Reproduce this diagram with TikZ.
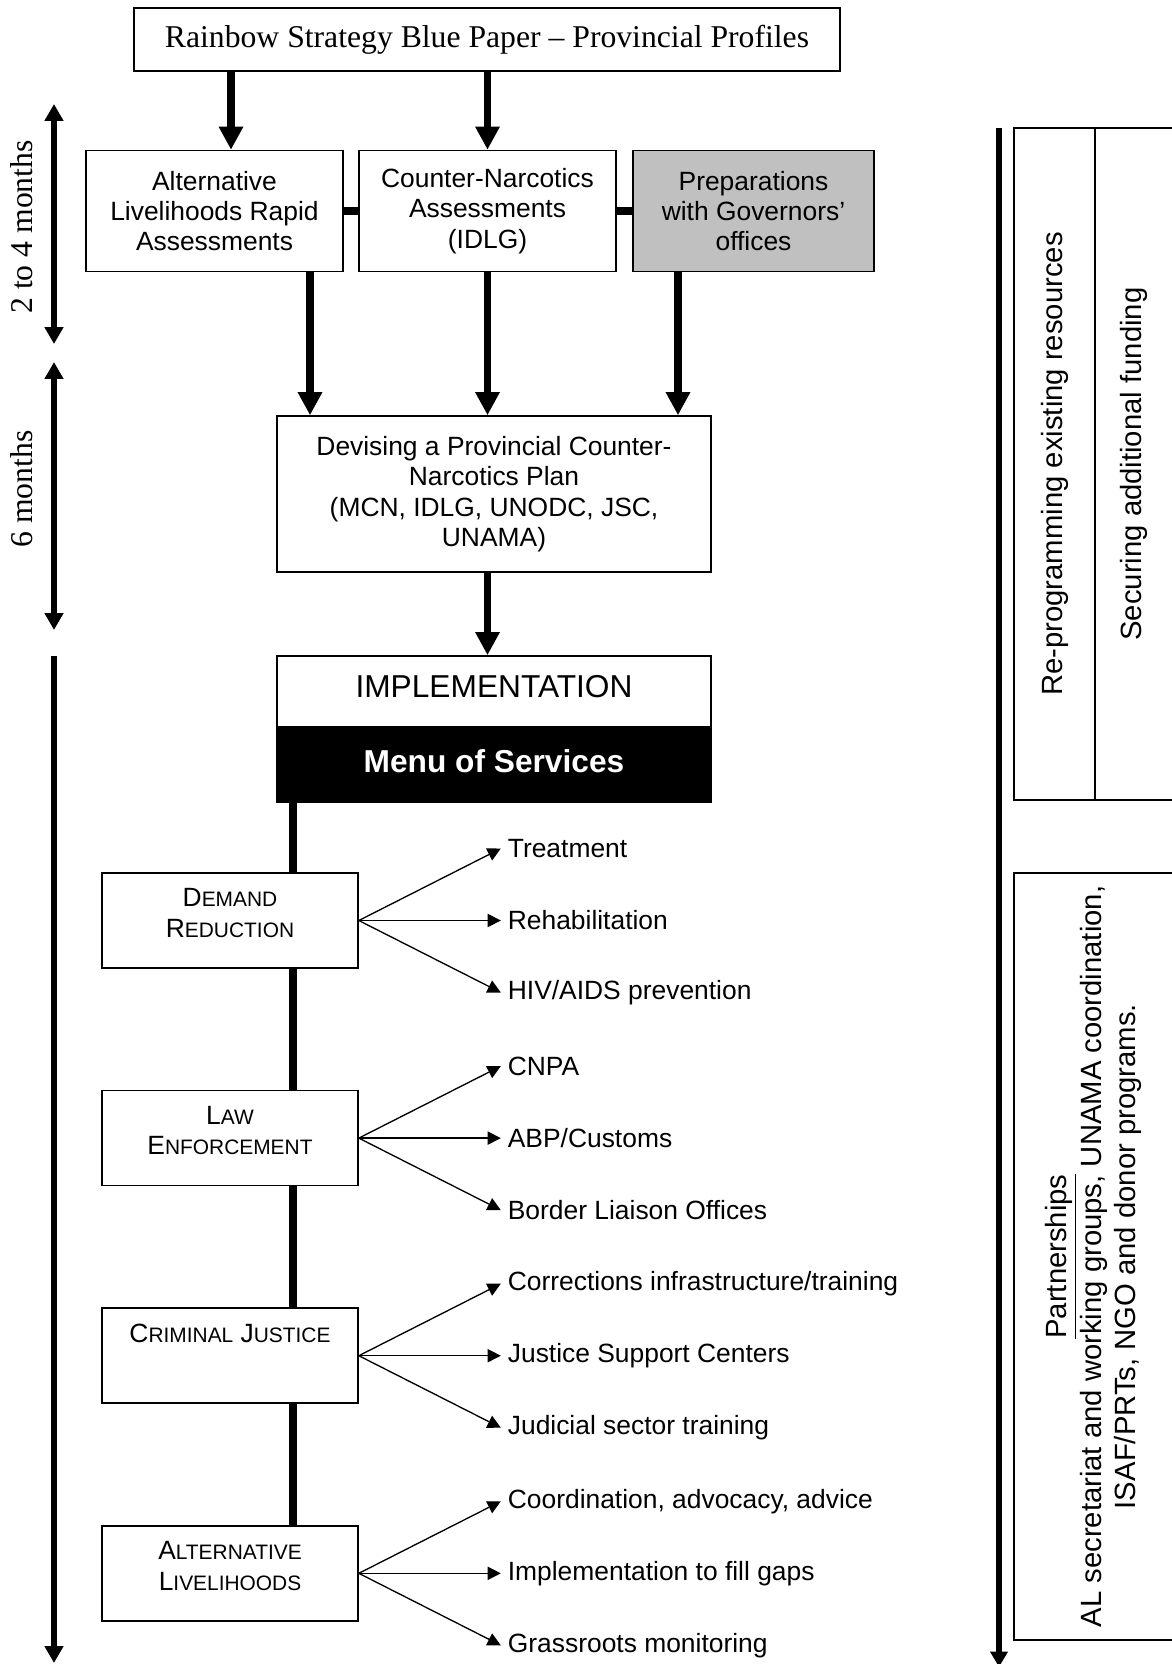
\documentclass[tikz,border=0pt]{standalone}
\usepackage{fontspec}
\setmainfont{Liberation Sans}
\newfontfamily\timesfont{Liberation Serif}
\usepackage{xcolor}
\usetikzlibrary{arrows.meta,positioning}
\definecolor{govgray}{RGB}{192,192,192}
\newcommand{\smc}{\fontsize{9.5}{12}\selectfont}
\newcommand{\catname}[2]{#1\\#2\\[-7pt]\mbox{}}

\begin{document}
\begin{tikzpicture}[
    x=0.4545pt, y=-0.4545pt,
    node distance=55pt,
    font=\fontsize{12}{13.8}\selectfont,
    box/.style={rectangle, draw, line width=0.7pt, fill=white, align=center, inner sep=0pt},
    catbox/.style={box, minimum width=116.4pt, minimum height=43.2pt},
    sidebox/.style={box, rotate=90, font=\fontsize{13.3}{15.7}\selectfont},
    item/.style={anchor=west, inner xsep=3pt, inner ysep=0pt},
    timelabel/.style={rotate=90, font=\timesfont\fontsize{14.4}{16}\selectfont},
    bigarrow/.style={-{Triangle[length=10.5pt,width=10.5pt]}, line width=3.2pt},
    link/.style={line width=3.2pt},
    fan/.style={-{Triangle[length=6pt,width=6pt]}, line width=0.6pt},
    span/.style={{Triangle[length=7.7pt,width=8.2pt]}-{Triangle[length=7.7pt,width=8.2pt]}, line width=2.3pt}
]
\useasboundingbox (0,0) rectangle (1171,1664);

% Planning stage
\node[box, minimum width=320.9pt, minimum height=28.6pt, font=\timesfont\fontsize{14.4}{16}\selectfont] (blue) at (487,39.5) {Rainbow Strategy Blue Paper – Provincial Profiles};
\node[box, minimum width=116.8pt, minimum height=55pt] (alra) at (214.5,211) {Alternative\\Livelihoods Rapid\\Assessments};
\node[box, minimum width=116.8pt, minimum height=55pt] (cna) at (487.5,211) {Counter-Narcotics\\Assessments\\(IDLG)};
\node[box, fill=govgray, minimum width=109.5pt, minimum height=55pt] (gov) at (753.5,211) {Preparations\\with Governors’\\offices};
\node[box, minimum width=197.3pt, minimum height=70.9pt] (plan) at (494,494) {Devising a Provincial Counter-\\Narcotics Plan\\(MCN, IDLG, UNODC, JSC,\\UNAMA)};
\node[box, minimum width=197.3pt, minimum height=32.3pt, text depth=4.5pt, font=\fontsize{14.4}{16}\selectfont] (impl) at (494,691.5) {IMPLEMENTATION};
\node[box, fill=black, text=white, below=0pt of impl, minimum width=197.3pt, minimum height=33.6pt, text depth=4.5pt, font=\bfseries\fontsize{14.4}{16}\selectfont] (menu) {Menu of Services};

% Menu of services
\node[catbox] (dr) at (230,920.5) {\catname{D{\smc EMAND}}{R{\smc EDUCTION}}};
\node[catbox, below=of dr] (le) {\catname{L{\smc AW}}{E{\smc NFORCEMENT}}};
\node[catbox, below=of le] (cj) {\catname{C{\smc RIMINAL} J{\smc USTICE}}{\mbox{}}};
\node[catbox, below=of cj] (alv) {\catname{A{\smc LTERNATIVE}}{L{\smc IVELIHOODS}}};

\node[item] (treat) at ([shift={(142,-72)}]dr.east) {Treatment};
\node[item] (rehab) at ([shift={(142,0)}]dr.east) {Rehabilitation};
\node[item] (hiv) at ([shift={(142,72)}]dr.east) {HIV/AIDS prevention};
\node[item] (cnpa) at ([shift={(142,-72)}]le.east) {CNPA};
\node[item] (abp) at ([shift={(142,0)}]le.east) {ABP/Customs};
\node[item] (blo) at ([shift={(142,72)}]le.east) {Border Liaison Offices};
\node[item] (corr) at ([shift={(142,-72)}]cj.east) {Corrections infrastructure/training};
\node[item] (jsc) at ([shift={(142,0)}]cj.east) {Justice Support Centers};
\node[item] (judic) at ([shift={(142,72)}]cj.east) {Judicial sector training};
\node[item] (coord) at ([shift={(142,-72)}]alv.east) {Coordination, advocacy, advice};
\node[item] (gaps) at ([shift={(142,0)}]alv.east) {Implementation to fill gaps};
\node[item] (grass) at ([shift={(142,72)}]alv.east) {Grassroots monitoring};

% Resources and partners
\node[sidebox, minimum width=305.4pt, minimum height=36.8pt] (reprog) at (1054.5,464) {Re-programming existing resources};
\node[sidebox, minimum width=305.4pt, minimum height=35.5pt] (funds) at (1134,464) {Securing additional funding};
\node[sidebox, minimum width=348.6pt, minimum height=72.3pt] (partners) at (1093.5,1256.5) {\underline{Partnerships}\\AL secretariat and working groups, UNAMA coordination,\\ISAF/PRTs, NGO and donor programs.};

% Time spans
\node[timelabel] (months1) at (22,227) {2 to 4 months};
\node[timelabel] (months2) at (22,489) {6 months};
\coordinate (span1a) at (54,104);
\coordinate (span1b) at (54,344);
\coordinate (span2a) at (54,362);
\coordinate (span2b) at (54,630);
\coordinate (span3a) at (54,656);
\coordinate (span3b) at (54,1663);
\coordinate (rail1) at (999,128);
\coordinate (rail2) at (999,1667);

% Connectors
\coordinate (alrain) at (231,0);
\coordinate (alraout) at (310,0);
\coordinate (govout) at (678,0);
\coordinate (spine) at (293,0);

\draw[bigarrow] (blue.south -| alrain) -- (alra.north -| alrain);
\draw[bigarrow] (blue.south -| cna.north) -- (cna.north);
\draw[link] (alra.east) -- (cna.west);
\draw[link] (cna.east) -- (gov.west);
\draw[bigarrow] (alra.south -| alraout) -- (plan.north -| alraout);
\draw[bigarrow] (cna.south) -- (plan.north -| cna.south);
\draw[bigarrow] (gov.south -| govout) -- (plan.north -| govout);
\draw[bigarrow] (plan.south -| cna.south) -- (impl.north -| cna.south);

\draw[link] (menu.south -| spine) -- (dr.north -| spine);
\draw[link] (dr.south -| spine) -- (le.north -| spine);
\draw[link] (le.south -| spine) -- (cj.north -| spine);
\draw[link] (cj.south -| spine) -- (alv.north -| spine);

\draw[fan] (dr.east) -- (treat.west);
\draw[fan] (dr.east) -- (rehab.west);
\draw[fan] (dr.east) -- (hiv.west);
\draw[fan] (le.east) -- (cnpa.west);
\draw[fan] (le.east) -- (abp.west);
\draw[fan] (le.east) -- (blo.west);
\draw[fan] (cj.east) -- (corr.west);
\draw[fan] (cj.east) -- (jsc.west);
\draw[fan] (cj.east) -- (judic.west);
\draw[fan] (alv.east) -- (coord.west);
\draw[fan] (alv.east) -- (gaps.west);
\draw[fan] (alv.east) -- (grass.west);

\draw[span] (span1a) -- (span1b);
\draw[span] (span2a) -- (span2b);
\draw[-{Triangle[length=7.7pt,width=8.2pt]}, line width=2.3pt] (span3a) -- (span3b);
\draw[-{Triangle[length=7pt,width=7.7pt]}, line width=2.7pt] (rail1) -- (rail2);

\end{tikzpicture}
\end{document}
